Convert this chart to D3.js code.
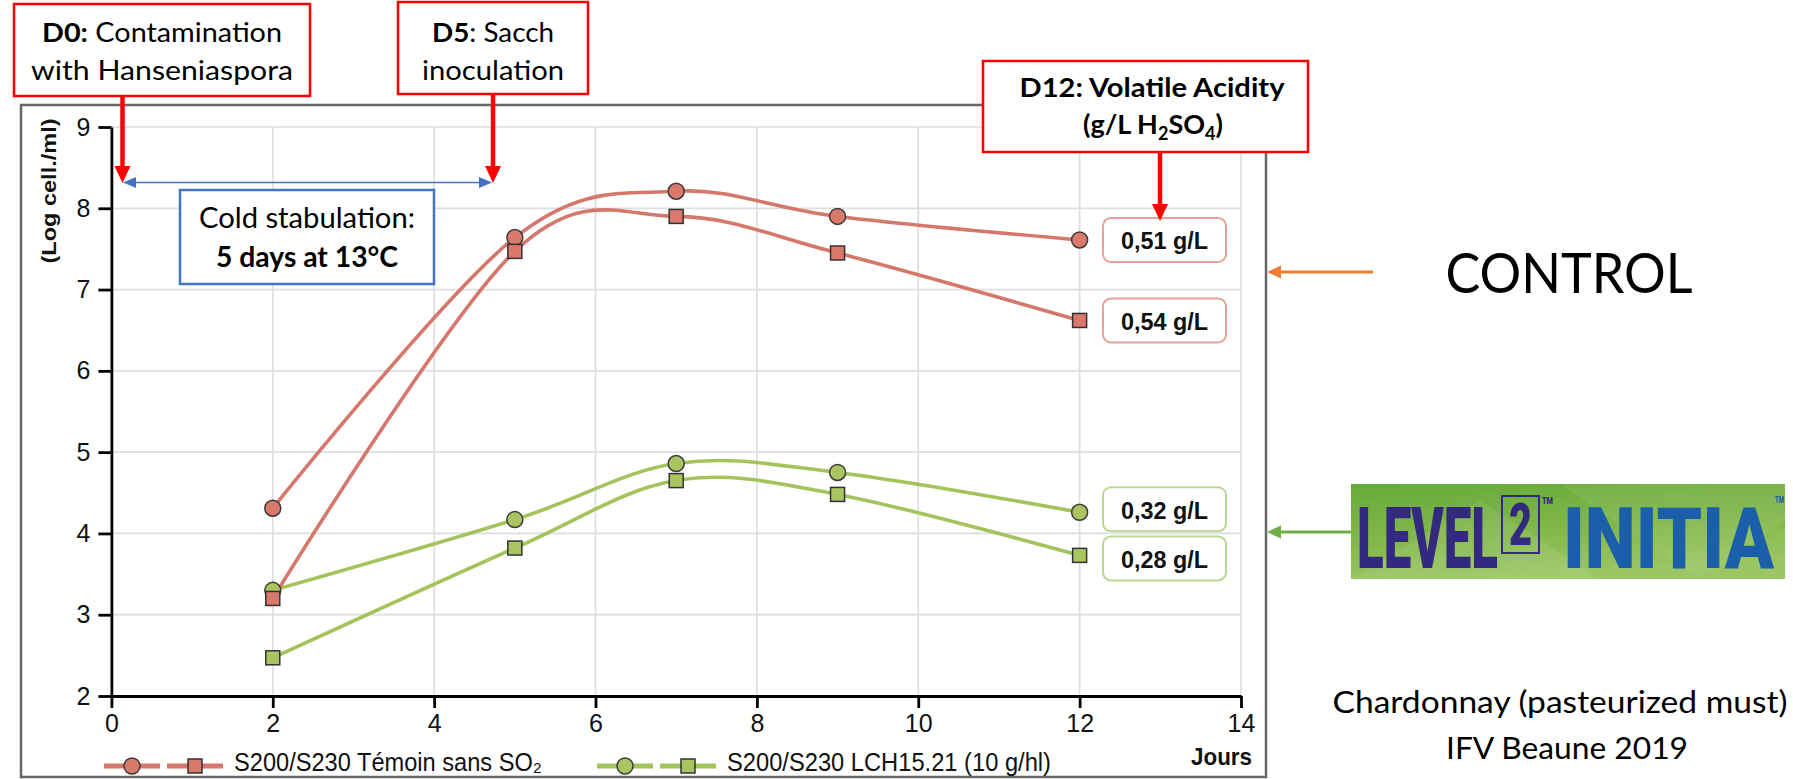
<!DOCTYPE html>
<html>
<head>
<meta charset="utf-8">
<script src="https://cdn.jsdelivr.net/npm/d3@7"></script>
<style>
	body { margin: 0; background: #fff; }
	svg { display: block; }
</style>
</head>
<body>
<svg id="chart" width="1793" height="779"></svg>
<script>
"use strict";

// values (Log cell./ml)
const days = [2, 5, 7, 9, 12];
const controlCircle = [4.31, 7.64, 8.21, 7.90, 7.61];
const controlSquare = [3.20, 7.47, 7.90, 7.45, 6.62];
const initiaCircle = [3.30, 4.17, 4.86, 4.75, 4.26];
const initiaSquare = [2.47, 3.82, 4.65, 4.48, 3.73];
const xTicks = [0, 2, 4, 6, 8, 10, 12, 14];
const yTicks = [2, 3, 4, 5, 6, 7, 8, 9];
const acidityLabels = ["0,51 g/L", "0,54 g/L", "0,32 g/L", "0,28 g/L"];
const legendLabels = ["S200/S230 Témoin sans SO₂", "S200/S230 LCH15.21 (10 g/hl)"];

const RED_LINE = "#d5786b";
const RED_FILL = "#d9796b";
const GREEN_LINE = "#a4c35b";
const GREEN_FILL = "#a9c460";
const CHART_FONT = "'Liberation Sans Narrow', 'Arial Narrow', 'Liberation Sans', Arial, sans-serif";
const SLIDE_FONT = "Lato, 'Open Sans', sans-serif";

const svg = d3.select("#chart");

const x = d3.scaleLinear().domain([0, 14]).range([111.4, 1241]);
const y = d3.scaleLinear().domain([2, 9]).range([696, 127]);

// outer frame of the chart picture
svg.append("rect")
	.attr("x", 21).attr("y", 105)
	.attr("width", 1245).attr("height", 672)
	.attr("fill", "#fff")
	.attr("stroke", "#666").attr("stroke-width", 2.5);

// grid
const grid = svg.append("g").attr("stroke", "#dedede").attr("stroke-width", 1.7);
grid.selectAll("line.v").data(xTicks.slice(1)).join("line")
	.attr("x1", d => x(d)).attr("x2", d => x(d))
	.attr("y1", y(9)).attr("y2", y(2));
grid.selectAll("line.h").data(yTicks.slice(1)).join("line")
	.attr("x1", x(0)).attr("x2", x(14))
	.attr("y1", d => y(d)).attr("y2", d => y(d));

// axes
const yAxis = svg.append("g")
	.attr("transform", `translate(${x(0)},0)`)
	.call(d3.axisLeft(y).tickValues(yTicks).tickFormat(d3.format("d"))
		.tickSize(13).tickPadding(8).tickSizeOuter(0));
const xAxis = svg.append("g")
	.attr("transform", `translate(0,${y(2)})`)
	.call(d3.axisBottom(x).tickValues(xTicks).tickFormat(d3.format("d"))
		.tickSize(12).tickPadding(6).tickSizeOuter(0));
for (let axis of [xAxis, yAxis]) {
	axis.select(".domain").attr("stroke", "#000").attr("stroke-width", 2.8);
	axis.selectAll(".tick line").attr("stroke", "#000").attr("stroke-width", 2.8);
	axis.selectAll(".tick text")
		.attr("fill", "#111")
		.style("font-family", CHART_FONT)
		.style("font-size", "25px");
}

svg.append("text")
	.attr("transform", "translate(48,191) rotate(-90)")
	.attr("text-anchor", "middle").attr("dominant-baseline", "central")
	.attr("textLength", 145).attr("lengthAdjust", "spacingAndGlyphs")
	.style("font-family", CHART_FONT).style("font-size", "21px").style("font-weight", "bold")
	.attr("fill", "#111")
	.text("(Log cell./ml)");

svg.append("text")
	.attr("x", 1252).attr("y", 765)
	.attr("text-anchor", "end")
	.attr("textLength", 61).attr("lengthAdjust", "spacingAndGlyphs")
	.style("font-family", CHART_FONT).style("font-size", "23px").style("font-weight", "bold")
	.attr("fill", "#111")
	.text("Jours");

// series: green first so the red markers sit on top
const series = [
	{values: initiaCircle, shape: "circle", line: GREEN_LINE, fill: GREEN_FILL},
	{values: initiaSquare, shape: "square", line: GREEN_LINE, fill: GREEN_FILL},
	{values: controlCircle, shape: "circle", line: RED_LINE, fill: RED_FILL},
	{values: controlSquare, shape: "square", line: RED_LINE, fill: RED_FILL}
];

const line = d3.line()
	.x(d => x(d[0]))
	.y(d => y(d[1]))
	.curve(d3.curveCardinal);

function drawMarker(g, shape, cx, cy, fill, r) {
	if (shape === "circle") {
		g.append("circle")
			.attr("cx", cx).attr("cy", cy).attr("r", r)
			.attr("fill", fill).attr("stroke", "#3c3c3c").attr("stroke-width", 1.5);
	} else {
		const s = r * 1.75;
		g.append("rect")
			.attr("x", cx - s / 2).attr("y", cy - s / 2)
			.attr("width", s).attr("height", s)
			.attr("fill", fill).attr("stroke", "#333").attr("stroke-width", 1.5);
	}
}

for (let s of series) {
	const pts = days.map((d, i) => [d, s.values[i]]);
	svg.append("path")
		.attr("d", line(pts))
		.attr("fill", "none")
		.attr("stroke", s.line)
		.attr("stroke-width", 3.6);
}
const markers = svg.append("g");
for (let s of series) {
	days.forEach((d, i) => drawMarker(markers, s.shape, x(d), y(s.values[i]), s.fill, 8));
}

// volatile acidity boxes next to the last points
const acidityRefs = [controlCircle, controlSquare, initiaCircle, initiaSquare];
const acidityStroke = ["#e2a39b", "#e2a39b", "#bdd693", "#bdd693"];
acidityLabels.forEach((t, i) => {
	const vals = acidityRefs[i];
	let cy = y(vals[vals.length - 1]);
	if (i === 2) cy -= 3;
	if (i === 3) cy += 3;
	svg.append("rect")
		.attr("x", 1103).attr("y", cy - 22)
		.attr("width", 123).attr("height", 44)
		.attr("rx", 8)
		.attr("fill", "#fff")
		.attr("stroke", acidityStroke[i]).attr("stroke-width", 2);
	svg.append("text")
		.attr("x", 1164.5).attr("y", cy + 9.5)
		.attr("text-anchor", "middle")
		.attr("textLength", 87).attr("lengthAdjust", "spacingAndGlyphs")
		.style("font-family", CHART_FONT).style("font-size", "24px").style("font-weight", "bold")
		.attr("fill", "#111")
		.text(t);
});

// legend, sitting on the bottom edge of the frame like in the original
svg.append("clipPath").attr("id", "legendClip")
	.append("rect").attr("x", 22).attr("y", 700).attr("width", 1243).attr("height", 76);
const legend = svg.append("g").attr("clip-path", "url(#legendClip)");
const legendItems = [
	{label: legendLabels[0], color: RED_LINE, fill: RED_FILL, x0: 104, textX: 234, width: 308},
	{label: legendLabels[1], color: GREEN_LINE, fill: GREEN_FILL, x0: 597, textX: 727, width: 324}
];
for (let item of legendItems) {
	const ly = 766;
	legend.append("line")
		.attr("x1", item.x0).attr("x2", item.x0 + 56).attr("y1", ly).attr("y2", ly)
		.attr("stroke", item.color).attr("stroke-width", 5);
	legend.append("line")
		.attr("x1", item.x0 + 63).attr("x2", item.x0 + 119).attr("y1", ly).attr("y2", ly)
		.attr("stroke", item.color).attr("stroke-width", 5);
	drawMarker(legend, "circle", item.x0 + 28, ly, item.fill, 8);
	drawMarker(legend, "square", item.x0 + 91, ly, item.fill, 8);
	legend.append("text")
		.attr("x", item.textX).attr("y", 771)
		.attr("textLength", item.width).attr("lengthAdjust", "spacingAndGlyphs")
		.style("font-family", CHART_FONT).style("font-size", "25px")
		.attr("fill", "#111")
		.text(item.label);
}

// ---- slide annotations ----
function textLine(cx, by, parts, size, len) {
	const t = svg.append("text")
		.attr("x", cx).attr("y", by)
		.attr("text-anchor", "middle")
		.style("font-family", SLIDE_FONT).style("font-size", size + "px")
		.attr("fill", "#000");
	if (len) t.attr("textLength", len).attr("lengthAdjust", "spacingAndGlyphs");
	for (let p of parts) {
		t.append("tspan").style("font-weight", p[1] ? "bold" : "normal").text(p[0]);
	}
	return t;
}

function box(bx, by, w, h, color) {
	svg.append("rect")
		.attr("x", bx).attr("y", by).attr("width", w).attr("height", h)
		.attr("fill", "#fff").attr("stroke", color).attr("stroke-width", 2.5);
}

function arrowHead(tx, ty, dx, dy, len, half, color) {
	// tip at (tx,ty) pointing along (dx,dy)
	const bx = tx - dx * len, by = ty - dy * len;
	const px = -dy * half, py = dx * half;
	svg.append("path")
		.attr("d", `M${tx},${ty}L${bx + px},${by + py}L${bx - px},${by - py}Z`)
		.attr("fill", color);
}

function redArrow(ax, y1, y2) {
	svg.append("line")
		.attr("x1", ax).attr("x2", ax).attr("y1", y1).attr("y2", y2 - 14)
		.attr("stroke", "#ff0000").attr("stroke-width", 4.5);
	arrowHead(ax, y2, 0, 1, 17, 8, "#ff0000");
}

box(14, 4, 296, 92, "#ff0000");
textLine(162, 42, [["D0:", true], [" Contamination", false]], 27, 240);
textLine(162, 80, [["with Hanseniaspora", false]], 27, 262);
redArrow(122.5, 96, 183);

box(398, 2, 190, 92, "#ff0000");
textLine(493, 42, [["D5", true], [": Sacch", false]], 27, 122);
textLine(493, 80, [["inoculation", false]], 27, 142);
redArrow(493, 94, 183);

// cold stabulation span
svg.append("line")
	.attr("x1", 134).attr("x2", 481).attr("y1", 182.5).attr("y2", 182.5)
	.attr("stroke", "#4472c4").attr("stroke-width", 1.6);
arrowHead(123, 182.5, -1, 0, 13, 5.5, "#4472c4");
arrowHead(492, 182.5, 1, 0, 13, 5.5, "#4472c4");
box(180, 190, 254, 94, "#4472c4");
textLine(307, 228, [["Cold stabulation:", false]], 29, 216);
textLine(307, 267, [["5 days at 13°C", true]], 29, 182);

box(983, 61, 325, 91, "#ff0000");
textLine(1152, 97, [["D12: Volatile Acidity", true]], 27, 265);
const h2so4 = svg.append("text")
	.attr("x", 1153).attr("y", 134)
	.attr("text-anchor", "middle")
	.style("font-family", SLIDE_FONT).style("font-size", "27px").style("font-weight", "bold")
	.attr("fill", "#000");
h2so4.append("tspan").text("(g/L H");
h2so4.append("tspan").attr("dy", 6).style("font-size", "18px").text("2");
h2so4.append("tspan").attr("dy", -6).text("SO");
h2so4.append("tspan").attr("dy", 6).style("font-size", "18px").text("4");
h2so4.append("tspan").attr("dy", -6).text(")");
redArrow(1160, 152, 221);

// group arrows on the right
svg.append("line")
	.attr("x1", 1373).attr("x2", 1279).attr("y1", 272).attr("y2", 272)
	.attr("stroke", "#ed7d31").attr("stroke-width", 2.8);
arrowHead(1267, 272, -1, 0, 14, 6.5, "#ed7d31");
svg.append("line")
	.attr("x1", 1352).attr("x2", 1279).attr("y1", 532).attr("y2", 532)
	.attr("stroke", "#70ad47").attr("stroke-width", 2.8);
arrowHead(1267, 532, -1, 0, 14, 6.5, "#70ad47");

textLine(1569, 293, [["CONTROL", false]], 57, 247);
textLine(1560, 713, [["Chardonnay (pasteurized must)", false]], 30, 455);
textLine(1567, 759, [["IFV Beaune 2019", false]], 30, 242);

// LEVEL2 INITIA badge
const defs = svg.append("defs");
const grad = defs.append("linearGradient").attr("id", "badge")
	.attr("x1", "0").attr("y1", "0").attr("x2", "0.3").attr("y2", "1");
grad.append("stop").attr("offset", "0").attr("stop-color", "#66aa3b");
grad.append("stop").attr("offset", "0.6").attr("stop-color", "#84b84c");
grad.append("stop").attr("offset", "1").attr("stop-color", "#9bc663");
svg.append("rect")
	.attr("x", 1351).attr("y", 484).attr("width", 434).attr("height", 95)
	.attr("fill", "url(#badge)");
svg.append("path")
	.attr("d", "M1351,579L1480,500L1600,579Z")
	.attr("fill", "#ffffff").attr("opacity", 0.08);
svg.append("path")
	.attr("d", "M1560,484L1700,579L1785,520L1785,484Z")
	.attr("fill", "#ffffff").attr("opacity", 0.06);

// condensed logo lettering: measure the glyphs, then squeeze them with a transform
const badgeFont = "Roboto, 'Liberation Sans', sans-serif";
function badgeText(txt, left, base, width, capHeight, color) {
	const size = 40;
	const t = svg.append("text")
		.attr("x", 0).attr("y", 0)
		.style("font-family", badgeFont).style("font-size", size + "px").style("font-weight", 900)
		.attr("fill", color)
		.text(txt);
	const natural = t.node().getComputedTextLength();
	const sx = width / natural;
	const sy = capHeight / (size * 0.711);
	t.attr("transform", `translate(${left},${base}) scale(${sx},${sy})`);
	return t;
}
badgeText("LEVEL", 1357, 568, 141, 60, "#33297e");
svg.append("rect")
	.attr("x", 1502).attr("y", 496).attr("width", 37).attr("height", 57)
	.attr("fill", "none").attr("stroke", "#33297e").attr("stroke-width", 2);
badgeText("2", 1509, 545, 23, 42, "#33297e");
badgeText("TM", 1542, 504, 11, 7, "#33297e");
badgeText("INITIA", 1563, 568, 211, 60, "#1b5fab");
badgeText("TM", 1775, 503, 9, 7, "#1b5fab");
</script>
</body>
</html>
